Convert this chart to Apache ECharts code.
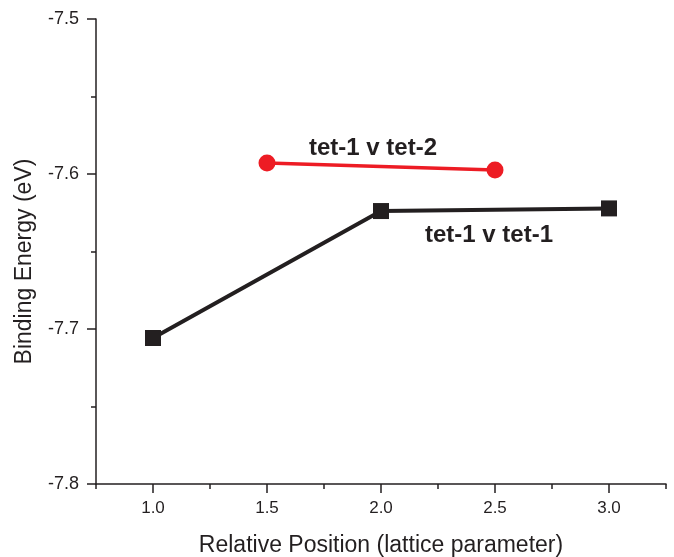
<!DOCTYPE html>
<html>
<head>
<meta charset="utf-8">
<script src="https://cdn.jsdelivr.net/npm/echarts@6/dist/echarts.min.js"></script>
<style>
  html, body { margin: 0; padding: 0; background: #fff; }
  #chart { width: 674px; height: 557px; }
</style>
</head>
<body>
<div id="chart"></div>
<script>
// data
const tet11X = [1.0, 2.0, 3.0]
const tet11Y = [-7.7058, -7.6239, -7.6222]
const tet12X = [1.5, 2.5]
const tet12Y = [-7.5929, -7.5974]
const xLabelValues = [1.0, 1.5, 2.0, 2.5, 3.0]
const xMinorValues = [0.75, 1.25, 1.75, 2.25, 2.75, 3.25]

const font = 'Liberation Sans, Arial, Helvetica, sans-serif'
const black = '#231f20'
const red = '#ed1c24'

const chart = echarts.init(document.getElementById('chart'))

const option = {
    backgroundColor: '#fff',
    animation: false,
    grid: { left: 96, right: 8, top: 19, bottom: 73, outerBoundsMode: 'none', containLabel: false },
    xAxis: [{
        type: 'value',
        min: 0.75,
        max: 3.25,
        name: 'Relative Position (lattice parameter)',
        nameLocation: 'middle',
        nameGap: 50,
        nameTextStyle: { fontFamily: font, fontSize: 23, color: black },
        axisLine: { show: true, lineStyle: { color: black, width: 1.5 } },
        axisTick: { show: true, length: 9, lineStyle: { color: black, width: 1.5 }, customValues: xLabelValues },
        axisLabel: {
            fontFamily: font, fontSize: 17, color: black, margin: 16,
            customValues: xLabelValues,
            formatter: v => v.toFixed(1)
        },
        splitLine: { show: false }
    }, {
        // minor ticks only
        type: 'value',
        position: 'bottom',
        min: 0.75,
        max: 3.25,
        axisLine: { show: false },
        axisTick: { show: true, length: 5, lineStyle: { color: black, width: 1.5 }, customValues: xMinorValues },
        axisLabel: { show: false },
        splitLine: { show: false }
    }],
    yAxis: {
        type: 'value',
        min: -7.8,
        max: -7.5,
        interval: 0.1,
        name: 'Binding Energy (eV)',
        nameLocation: 'middle',
        nameGap: 60,
        nameTextStyle: { fontFamily: font, fontSize: 23, color: black, padding: [0, 20, 0, 0] },
        axisLine: { show: true, lineStyle: { color: black, width: 1.5 } },
        axisTick: { show: true, length: 9, lineStyle: { color: black, width: 1.5 } },
        minorTick: { show: true, splitNumber: 2, length: 5, lineStyle: { color: black, width: 1.5 } },
        axisLabel: {
            fontFamily: font, fontSize: 18, color: black, margin: 17,
            formatter: v => v.toFixed(1)
        },
        splitLine: { show: false }
    },
    series: [{
        name: 'tet-1 v tet-1',
        type: 'line',
        data: tet11X.map((x, i) => [x, tet11Y[i]]),
        symbol: 'rect',
        symbolSize: 16,
        lineStyle: { color: black, width: 4 },
        itemStyle: { color: black },
        z: 3
    }, {
        name: 'tet-1 v tet-2',
        type: 'line',
        data: tet12X.map((x, i) => [x, tet12Y[i]]),
        symbol: 'circle',
        symbolSize: 17,
        lineStyle: { color: red, width: 3.5 },
        itemStyle: { color: red },
        z: 4
    }],
    graphic: [{
        type: 'text',
        x: 373,
        y: 148,
        style: { text: 'tet-1 v tet-2', fontFamily: font, fontWeight: 'bold', fontSize: 24, fill: black, align: 'center', verticalAlign: 'middle' }
    }, {
        type: 'text',
        x: 489,
        y: 235,
        style: { text: 'tet-1 v tet-1', fontFamily: font, fontWeight: 'bold', fontSize: 24, fill: black, align: 'center', verticalAlign: 'middle' }
    }]
}

chart.setOption(option)
</script>
</body>
</html>
